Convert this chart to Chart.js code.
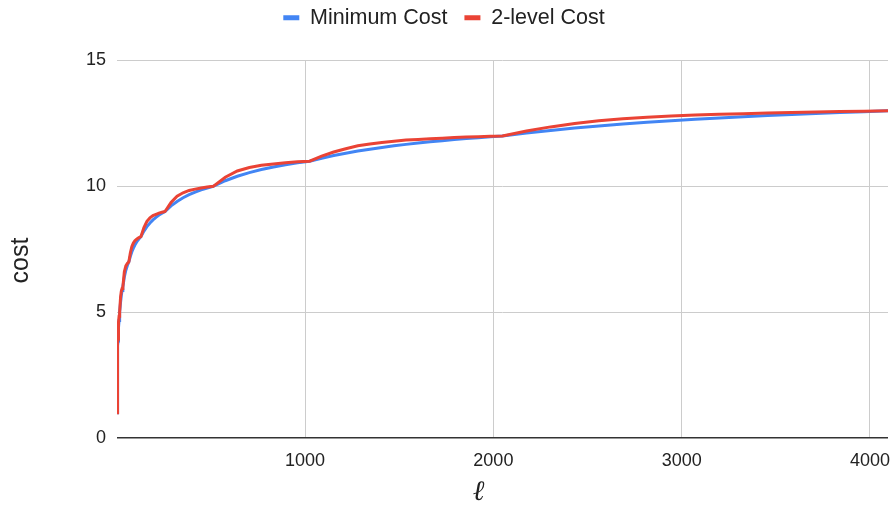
<!DOCTYPE html>
<html>
<head>
<meta charset="utf-8">
<script src="https://cdn.jsdelivr.net/npm/chart.js@4"></script>
<style>
  html, body { margin: 0; padding: 0; background: #fff; }
  #wrap { width: 891px; height: 507px; position: relative; }
</style>
</head>
<body>
<div id="wrap"><canvas id="c" width="891" height="507"></canvas></div>
<script>
// ---- data ----
const ellValues = [1, 2, 3, 4, 5, 6, 7, 8, 10, 12, 14, 16, 20, 24, 28, 32, 40, 48, 56, 64,
  72, 80, 88, 96, 104, 112, 120, 128,
  144, 160, 176, 192, 208, 224, 240, 256,
  288, 320, 352, 384, 416, 448, 480, 512,
  576, 640, 704, 768, 832, 896, 960, 1024,
  1088, 1152, 1216, 1280, 1344, 1408, 1472, 1536, 1600, 1664, 1728, 1792, 1856, 1920, 1984, 2048,
  2176, 2304, 2432, 2560, 2688, 2816, 2944, 3072, 3200, 3328, 3456, 3584, 3712, 3840, 3968, 4096];

const minimumCost = [1, 2, 2.667, 3, 3.4, 3.667, 3.857, 4, 4.4, 4.667, 4.857, 5, 5.4, 5.667, 5.857, 6, 6.4, 6.667, 6.857, 7,
  7.222, 7.4, 7.545, 7.667, 7.769, 7.857, 7.933, 8,
  8.222, 8.4, 8.545, 8.667, 8.769, 8.857, 8.933, 9,
  9.222, 9.4, 9.545, 9.667, 9.769, 9.857, 9.933, 10,
  10.222, 10.4, 10.545, 10.667, 10.769, 10.857, 10.933, 11,
  11.118, 11.222, 11.316, 11.4, 11.476, 11.545, 11.609, 11.667, 11.72, 11.769, 11.815, 11.857, 11.897, 11.933, 11.968, 12,
  12.118, 12.222, 12.316, 12.4, 12.476, 12.545, 12.609, 12.667, 12.72, 12.769, 12.815, 12.857, 12.897, 12.933, 12.968, 13];

const twoLevelCost = [1, 2, 2.837, 3, 3.61, 3.837, 3.937, 4, 4.61, 4.837, 4.937, 5, 5.61, 5.837, 5.937, 6, 6.61, 6.837, 6.937, 7,
  7.362, 7.61, 7.745, 7.837, 7.889, 7.937, 7.973, 8,
  8.362, 8.61, 8.745, 8.837, 8.889, 8.937, 8.973, 9,
  9.362, 9.61, 9.745, 9.837, 9.889, 9.937, 9.973, 10,
  10.362, 10.61, 10.745, 10.837, 10.889, 10.937, 10.973, 11,
  11.198, 11.362, 11.496, 11.61, 11.686, 11.745, 11.794, 11.837, 11.865, 11.889, 11.915, 11.937, 11.957, 11.973, 11.988, 12,
  12.198, 12.362, 12.496, 12.61, 12.686, 12.745, 12.794, 12.837, 12.865, 12.889, 12.915, 12.937, 12.957, 12.973, 12.988, 13];

const xTickValues = [1000, 2000, 3000, 4000];
const yTickValues = [0, 5, 10, 15];
const seriesNames = ['Minimum Cost', '2-level Cost'];
const xTitle = 'ℓ';
const yTitle = 'cost';

// ---- chart ----
const FONT = '"Liberation Sans", Arial, sans-serif';
const toPoints = (ys) => ellValues.map((x, i) => ({ x: x, y: ys[i] }));

const axisTitles = {
  id: 'axisTitles',
  afterLayout(chart) {
    // lift the legend row toward the top edge, as in the reference
    if (chart.legend) {
      chart.legend.top -= 22;
      chart.legend.bottom -= 22;
    }
  },
  afterDraw(chart) {
    const ctx = chart.ctx;
    const a = chart.chartArea;
    ctx.save();
    ctx.fillStyle = '#222';
    ctx.textAlign = 'center';
    ctx.textBaseline = 'middle';
    ctx.font = '25px ' + FONT;
    ctx.translate(21, a.top + (a.bottom - a.top) * 0.53);
    ctx.rotate(-Math.PI / 2);
    ctx.fillText(yTitle, 0, 0);
    ctx.restore();

    ctx.save();
    ctx.fillStyle = '#222';
    ctx.textAlign = 'center';
    ctx.textBaseline = 'middle';
    ctx.font = 'italic 28px "DejaVu Serif", serif';
    ctx.fillText(xTitle, a.left + (a.right - a.left) * 0.469, 493);
    ctx.restore();
  }
};

new Chart(document.getElementById('c'), {
  type: 'line',
  data: {
    datasets: [
      {
        label: seriesNames[0],
        data: toPoints(minimumCost),
        borderColor: '#4285F4',
        backgroundColor: '#4285F4',
        borderWidth: 3,
        pointRadius: 0,
        tension: 0,
        order: 1
      },
      {
        label: seriesNames[1],
        data: toPoints(twoLevelCost),
        borderColor: '#EA4335',
        backgroundColor: '#EA4335',
        borderWidth: 3,
        pointRadius: 0,
        tension: 0,
        order: 0
      }
    ]
  },
  options: {
    responsive: false,
    animation: false,
    devicePixelRatio: 1,
    layout: { padding: { left: 0, right: 3, top: 12, bottom: 0 } },
    plugins: {
      tooltip: { enabled: false },
      legend: {
        position: 'top',
        align: 'center',
        labels: {
          font: { family: FONT, size: 21.5 },
          color: '#222',
          boxWidth: 16,
          boxHeight: 5,
          padding: 17,
          generateLabels(chart) {
            const items = Chart.defaults.plugins.legend.labels.generateLabels(chart);
            items.forEach(it => { it.lineWidth = 0; });
            return items.sort((p, q) => p.datasetIndex - q.datasetIndex);
          }
        }
      }
    },
    scales: {
      x: {
        type: 'linear',
        min: 1,
        max: 4096,
        afterBuildTicks(axis) { axis.ticks = xTickValues.map(v => ({ value: v })); },
        afterFit(axis) { axis.height = 69; axis.paddingLeft = 0; axis.paddingRight = 0; },
        ticks: {
          font: { family: FONT, size: 18 },
          color: '#222',
          padding: 12,
          maxRotation: 0,
          callback: (v) => String(v)
        },
        grid: { color: '#cccccc', lineWidth: 1, drawTicks: false },
        border: { display: false }
      },
      y: {
        type: 'linear',
        min: 0,
        max: 15,
        afterBuildTicks(axis) { axis.ticks = yTickValues.map(v => ({ value: v })); },
        afterFit(axis) { axis.width = 117; },
        ticks: {
          font: { family: FONT, size: 18 },
          color: '#222',
          padding: 11
        },
        grid: {
          color: (c) => (c.tick && c.tick.value === 0) ? '#333333' : '#cccccc',
          lineWidth: (c) => (c.tick && c.tick.value === 0) ? 1.5 : 1,
          drawTicks: false
        },
        border: { display: false }
      }
    }
  },
  plugins: [axisTitles]
});
</script>
</body>
</html>
